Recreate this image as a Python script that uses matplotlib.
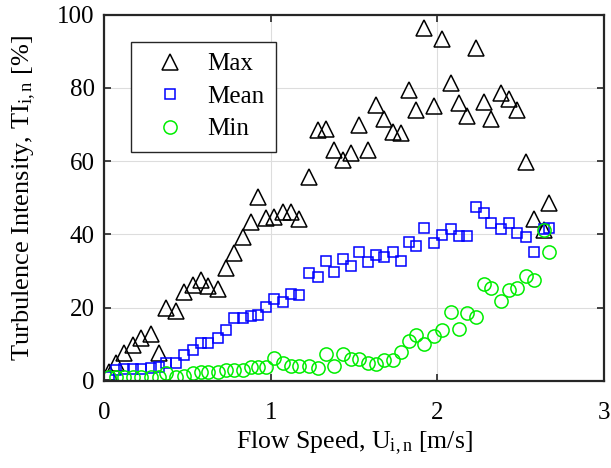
import matplotlib
matplotlib.use("Agg")
import matplotlib.pyplot as plt

# flow speed bins [m/s]
speed = [0.03, 0.07, 0.12, 0.17, 0.22, 0.28, 0.33, 0.37, 0.43, 0.48,
         0.53, 0.58, 0.62, 0.68, 0.73, 0.78, 0.83, 0.88, 0.92, 0.97,
         1.02, 1.07, 1.12, 1.17, 1.23, 1.28, 1.33, 1.38, 1.43, 1.48,
         1.53, 1.58, 1.63, 1.68, 1.73, 1.78, 1.83, 1.87, 1.92, 1.98,
         2.03, 2.08, 2.13, 2.18, 2.23, 2.28, 2.32, 2.38, 2.43, 2.48,
         2.53, 2.58, 2.64, 2.67]

ti_max = [2.5, 5.0, 7.6, 9.8, 11.7, 12.8, 7.6, 19.9, 19.2, 24.3,
          26.2, 27.5, 25.9, 25.1, 30.8, 34.9, 39.3, 43.4, 50.2, 44.4,
          44.7, 46.0, 46.0, 44.3, 55.7, 68.5, 68.8, 63.0, 60.3, 62.2,
          69.8, 63.0, 75.3, 71.5, 68.0, 67.7, 79.4, 73.9, 96.3, 75.0,
          93.3, 81.3, 75.9, 72.3, 90.9, 76.1, 71.5, 78.6, 76.9, 73.9,
          59.8, 44.2, 41.2, 48.6]

ti_mean = [1.0, 3.0, 3.2, 3.2, 3.2, 3.4, 3.8, 4.9, 4.9, 7.1,
           8.5, 10.4, 10.4, 11.7, 13.8, 17.1, 17.1, 17.8, 18.0, 20.2,
           22.4, 21.6, 23.7, 23.5, 29.5, 28.4, 32.7, 29.7, 33.3, 31.4,
           35.2, 32.5, 34.4, 33.8, 35.2, 32.7, 38.0, 36.8, 41.7, 37.7,
           39.8, 41.4, 39.6, 39.6, 47.4, 45.8, 43.1, 41.5, 43.1, 40.4,
           39.3, 35.2, 41.5, 41.7]

ti_min = [1.0, 1.0, 1.0, 1.0, 1.0, 1.0, 1.0, 2.2, 1.0, 1.4,
          2.2, 2.5, 2.5, 2.5, 3.0, 3.0, 3.0, 3.8, 3.8, 3.8,
          6.3, 4.9, 4.1, 4.1, 4.1, 3.5, 7.3, 4.2, 7.3, 6.0,
          6.0, 4.9, 4.5, 5.8, 5.8, 7.8, 11.0, 12.5, 10.0, 12.3,
          13.8, 18.7, 14.2, 18.6, 17.5, 26.5, 25.4, 21.8, 24.8, 25.4,
          28.6, 27.6, 41.2, 35.2]

plt.rcParams['font.family'] = ['Liberation Serif', 'DejaVu Serif']
plt.rcParams['mathtext.fontset'] = 'custom'
plt.rcParams['mathtext.rm'] = 'Liberation Serif'
plt.rcParams['mathtext.it'] = 'Liberation Serif'

fig = plt.figure(figsize=(6.11, 4.68), dpi=100)
ax = fig.add_axes([0.171, 0.186, 0.8175, 0.783])

ax.plot(speed, ti_max, '^', ms=11, mfc='none', mec='black', mew=1.1, label='Max')
ax.plot(speed, ti_mean, 's', ms=7, mfc='none', mec='blue', mew=1.1, label='Mean')
ax.plot(speed, ti_min, 'o', ms=9.5, mfc='none', mec='#00ee00', mew=1.1, label='Min')

ax.set_xlim(0, 3)
ax.set_ylim(0, 100)
ax.set_xticks([0, 1, 2, 3])
ax.set_yticks([0, 20, 40, 60, 80, 100])
ax.grid(True, color='#dddddd', linewidth=0.8)
ax.set_axisbelow(True)
ax.tick_params(direction='in', top=True, right=True, labelsize=18,
               length=5, width=1.2, color='#262626')
ax.tick_params(axis='x', pad=15)
ax.tick_params(axis='y', pad=7)
for s in ax.spines.values():
    s.set_linewidth(1.6)
    s.set_color('#262626')

ax.set_xlabel(r'Flow Speed, U$_{\rm i,n}$ [m/s]', fontsize=18.5)
ax.set_ylabel(r'Turbulence Intensity, TI$_{\rm i,n}$ [%]', fontsize=19, labelpad=14)

leg = ax.legend(loc='upper left', bbox_to_anchor=(0.054, 0.926), fontsize=18,
                fancybox=False, edgecolor='#262626', framealpha=1,
                borderaxespad=0, handlelength=2.15, handletextpad=0.45,
                labelspacing=0.4, borderpad=0.45)
leg.get_frame().set_linewidth(1.0)

fig.savefig('out.png', dpi=100)
